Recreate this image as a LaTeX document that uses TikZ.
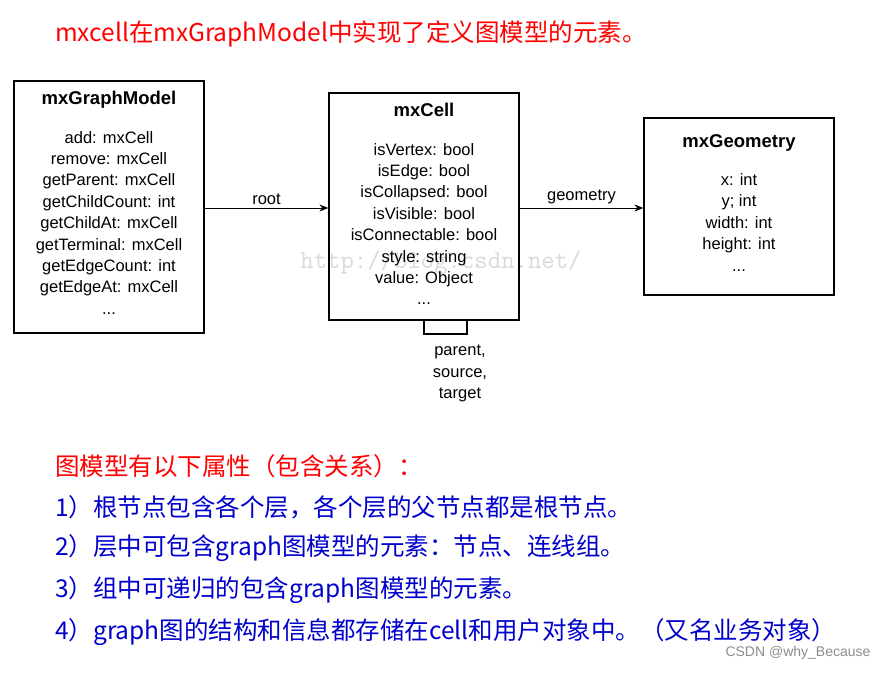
\documentclass[tikz,border=0pt]{standalone}
\usepackage{fontspec}
\setmainfont{Liberation Sans}
\newfontfamily\cjk{Noto Sans CJK SC}
\usetikzlibrary{positioning,arrows.meta}
\begin{document}
\begin{tikzpicture}[x=1pt,y=-1pt]
  \tikzset{class box/.style={rectangle, draw, line width=1.2pt, minimum width=190pt, inner sep=0pt}, }
  \tikzset{class text/.style={anchor=north, align=center, font=\fontsize{16.5}{21.4}\selectfont, inner sep=0pt}, }
  \tikzset{linea/.style={-{Stealth[length=9pt,width=7pt]}, line width=0.9pt}, }
  \tikzset{cn text/.style={anchor=west, inner sep=0pt, font=\cjk\fontsize{24.5}{28}\selectfont}, }
\useasboundingbox (0,0) rectangle (888,672);
\node[text=black!15, font=\ttfamily\fontsize{26}{26}\selectfont] (mark) at (441,262) {http://blog.csdn.net/};
\node[class box, minimum height=252pt] (model) at (109,207) {};
\node[class box, minimum height=227pt] (cell) at (424,206.5) {};
\node[class box, minimum height=177pt] (geom) at (739,206.5) {};
\node[class text] (model text) at (109,91) {\fontsize{18.5}{21.4}\selectfont\textbf{mxGraphModel}\\[17pt]add: mxCell\\remove: mxCell\\getParent: mxCell\\getChildCount: int\\getChildAt: mxCell\\getTerminal: mxCell\\getEdgeCount: int\\getEdgeAt: mxCell\\...};
\node[class text] (cell text) at (424,103) {\fontsize{18.5}{21.4}\selectfont\textbf{mxCell}\\[17pt]isVertex: bool\\isEdge: bool\\isCollapsed: bool\\isVisible: bool\\isConnectable: bool\\style: string\\value: Object\\...};
\node[class text] (geom text) at (739,134) {\fontsize{18.5}{21.4}\selectfont\textbf{mxGeometry}\\[17pt]x: int\\y; int\\width: int\\height: int\\...};
\path[linea] (model.east |- 0,208) edge node[above, font=\fontsize{16.5}{18}\selectfont] (root) {root} (cell.west |- 0,208);
\path[linea] (cell.east |- 0,208) edge node[above, font=\fontsize{16.5}{18}\selectfont] (geo) {geometry} (geom.west |- 0,208);
\coordinate (loop a) at (424,334);
\coordinate (loop b) at (467,334);
\draw[line width=1.2pt] (cell.south -| loop a) -- (loop a) -- (loop b) -- (cell.south -| loop b);
\node[class text] (loop text) at (460,345) {parent,\\source,\\target};
%% texts
\node[cn text, text=red] (title) at (55,34) {mxcell在mxGraphModel中实现了定义图模型的元素。};
\node[cn text, text=red] (head) at (55,466) {图模型有以下属性（包含关系）：};
\node[cn text, text=blue!80!black] (p1) at (55,507) {1）根节点包含各个层，各个层的父节点都是根节点。};
\node[cn text, text=blue!80!black] (p2) at (55,548) {2）层中可包含graph图模型的元素：节点、连线组。};
\node[cn text, text=blue!80!black] (p3) at (55,590) {3）组中可递归的包含graph图模型的元素。};
\node[cn text, text=blue!80!black] (p4) at (55,632) {4）graph图的结构和信息都存储在cell和用户对象中。（又名业务对象）};
\node[anchor=east, text=black!45, font=\fontsize{14}{14}\selectfont] (csdn) at (874,653) {CSDN @why\_Because};
\end{tikzpicture}
\end{document}
